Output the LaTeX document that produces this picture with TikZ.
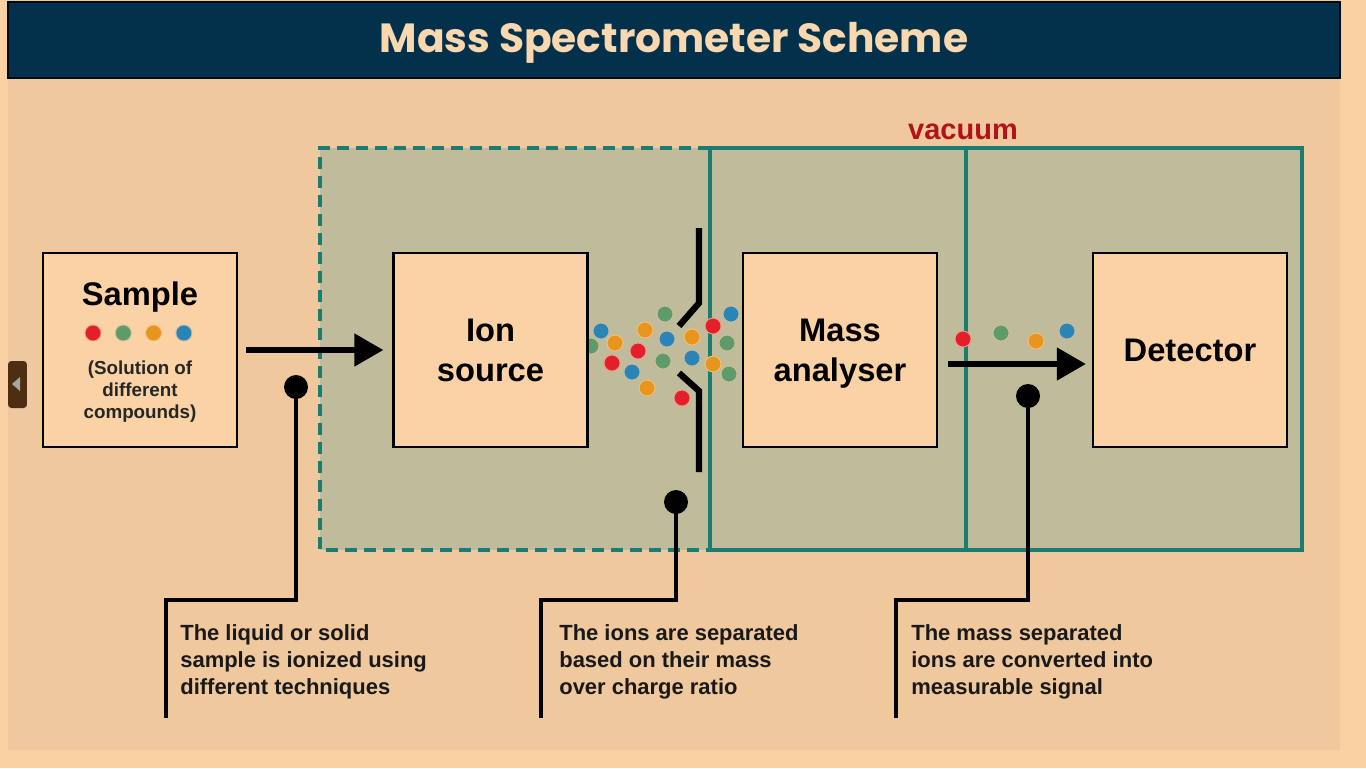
\documentclass[tikz,border=0pt]{standalone}
\usepackage{fontspec}
\setmainfont{Liberation Sans}
\newfontfamily\titlefont{Poppins}
\usetikzlibrary{arrows.meta,positioning}

\definecolor{bgout}{HTML}{FAD1A3}
\definecolor{panel}{HTML}{F0C89D}
\definecolor{navy}{HTML}{03304A}
\definecolor{cream}{HTML}{F9D8AF}
\definecolor{vacfill}{HTML}{C0BB9B}
\definecolor{vacteal}{HTML}{1B7D72}
\definecolor{boxfill}{HTML}{FAD2A5}
\definecolor{vacred}{HTML}{B3121A}
\definecolor{ionred}{HTML}{E21F2B}
\definecolor{iongreen}{HTML}{5E9A6A}
\definecolor{ionorange}{HTML}{E8951E}
\definecolor{ionblue}{HTML}{2A84B6}
\definecolor{navbrown}{HTML}{4E2E12}

\tikzset{
  block/.style={draw=black, line width=1.4pt, fill=boxfill, inner sep=0pt,
    minimum width=3.88cm, minimum height=3.88cm, align=center,
    font=\bfseries\fontsize{18.6}{22.8}\selectfont},
  ion/.style={circle, fill=#1, draw=boxfill!70!#1, line width=0.5pt,
    inner sep=0pt, minimum size=0.32cm},
  pin/.style={circle, fill=black, inner sep=0pt, minimum size=0.48cm},
  lead/.style={line width=2.8pt},
  slit/.style={line width=3.6pt},
  bigarrow/.style={line width=2.9pt, -{Triangle[length=0.58cm,width=0.64cm]}},
  note/.style={anchor=north west, inner sep=0pt, align=left, text=black!90,
    font=\bfseries\fontsize{12.5}{15.4}\selectfont},
}

\begin{document}
\begin{tikzpicture}[x=0.02cm, y=-0.02cm]
 \useasboundingbox (0,0) rectangle (1366,768);

 %background
 \fill[bgout] (0,0) rectangle (1366,768);
 \fill[panel] (8,0) rectangle (1340,750);
 \draw[fill=navy, draw=black!80!navy, line width=0.6pt] (8,2) rectangle (1340,78);
 \node (title) at (674,43) {\titlefont\bfseries\fontsize{23.2}{26}\selectfont\color{cream} Mass Spectrometer Scheme};

 %side button
 \node (navbtn) [fill=navbrown, rounded corners=2pt, inner sep=0pt,
   minimum width=0.38cm, minimum height=0.94cm] at (17.5,384.5) {};
 \fill[black!35] (12,384) -- (20,377) -- (20,391) -- cycle;

 %vacuum chamber
 \fill[vacfill] (320,148) rectangle (1302,550);
 \draw[vacteal, line width=2pt, dash pattern=on 0.24cm off 0.14cm]
   (710,148) -- (320,148) -- (320,550) -- (710,550);
 \draw[vacteal, line width=2pt] (710,148) rectangle (1302,550);
 \draw[vacteal, line width=2pt] (966,148) -- (966,550);
 \node[text=vacred, font=\bfseries\fontsize{16.5}{18}\selectfont] (vac) at (963,132) {vacuum};

 %slit
 \draw[slit] (699,228) -- (699,303) -- (679,326);
 \draw[slit] (679,373) -- (699,391) -- (699,472);

 %ions between source and analyser
 \foreach \x/\y/\c [count=\k] in {
   665/314/iongreen, 601/331/ionblue, 645/330/ionorange, 667/339/ionblue,
   692/337/ionorange, 713/326/ionred, 731/314/ionblue, 591/346/iongreen,
   615/343/ionorange, 638/351/ionred, 727/343/iongreen, 612/363/ionred,
   663/361/iongreen, 692/358/ionblue, 713/364/ionorange, 632/372/ionblue,
   729/374/iongreen, 647/388/ionorange, 682/398/ionred} {
     \node[ion=\c] (d\k) at (\x,\y) {};
 }

 %ions before detector
 \foreach \x/\y/\c [count=\k] in {
   963/339/ionred, 1001/333/iongreen, 1036/341/ionorange, 1067/331/ionblue} {
     \node[ion=\c] (e\k) at (\x,\y) {};
 }

 %blocks
 \node[block] (sample) at (140,350) {};
 \node[block] (ionsrc) at (490.5,350) {Ion\\source};
 \node[block] (mass) at (840,350) {};
 \node[block] (det) at (1190,350) {Detector};
 \node[align=center, font=\bfseries\fontsize{18.6}{22.8}\selectfont] (masslbl) at (840,354) {Mass\\analyser};

 \node[font=\bfseries\fontsize{18.6}{22}\selectfont] (samplelbl) at (140,297) {Sample};
 \foreach \i/\c in {0/ionred, 1/iongreen, 2/ionorange, 3/ionblue} {
     \node[ion=\c] (s\i) at (93+\i*30.3,333) {};
 }
 \node[align=center, text=black!85, font=\bfseries\fontsize{10.7}{12.5}\selectfont]
   (samplenote) at (140,392) {(Solution of\\different\\compounds)};

 %arrows
 \draw[bigarrow, shorten <=0.16cm, shorten >=0.18cm] (sample) -- (ionsrc);
 \draw[bigarrow, shorten <=0.2cm, shorten >=0.12cm]
   ([yshift=-0.28cm]mass.east) -- ([yshift=-0.28cm]det.west);

 %callouts
 \coordinate (c1a) at (296,600); \coordinate (c1b) at (166,600); \coordinate (c1c) at (166,718);
 \coordinate (c2a) at (676,600); \coordinate (c2b) at (541,600); \coordinate (c2c) at (541,718);
 \coordinate (c3a) at (1028,600); \coordinate (c3b) at (896,600); \coordinate (c3c) at (896,718);

 \node[pin] (p1) at (296,387) {};
 \node[pin] (p2) at (676,502) {};
 \node[pin] (p3) at (1028,396) {};

 \draw[lead] (p1.center) -- (c1a) -- (c1b) -- (c1c);
 \draw[lead] (p2.center) -- (c2a) -- (c2b) -- (c2c);
 \draw[lead] (p3.center) -- (c3a) -- (c3b) -- (c3c);

 \node[note] (n1) at (180,624) {The liquid or solid\\sample is ionized using\\different techniques};
 \node[note] (n2) at (559,624) {The ions are separated\\based on their mass\\over charge ratio};
 \node[note] (n3) at (911,624) {The mass separated\\ions are converted into\\measurable signal};

\end{tikzpicture}
\end{document}
